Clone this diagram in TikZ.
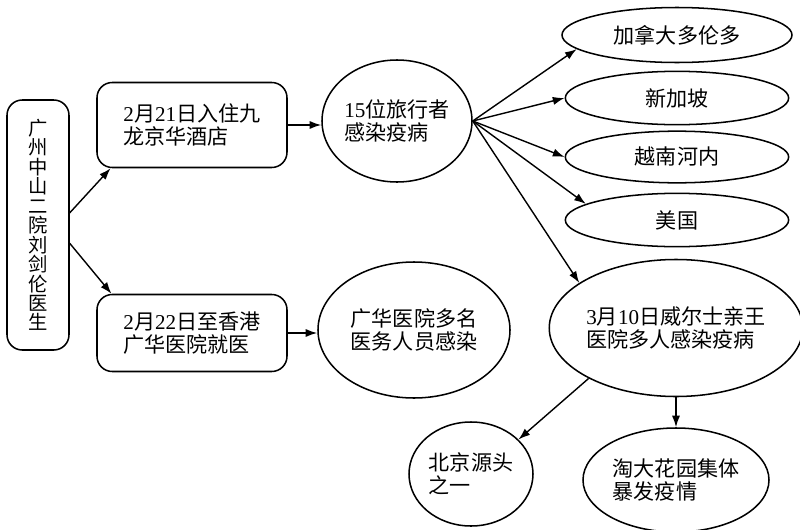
\documentclass[tikz,border=0pt]{standalone}
\usepackage{fontspec}
\setmainfont{Noto Sans CJK SC}
\newfontfamily\latinfont{Liberation Serif}
\newcommand\dg[1]{{\latinfont #1}}
\usetikzlibrary{shapes.geometric,arrows.meta}
\begin{document}
\begin{tikzpicture}[x=0.03cm,y=-0.03cm,
		every node/.style={font=\fontsize{18}{20}\selectfont, align=left, line width=1.3pt, inner sep=0pt},
		box/.style={draw, rounded corners=13pt, minimum width=5.7cm},
		oval/.style={draw, ellipse},
		arr/.style={-{Latex[length=10pt,width=7pt]}, line width=1.2pt}]
		\useasboundingbox (0,0) rectangle (800,530);
		\node[box, minimum width=1.86cm, minimum height=7.5cm, align=center, font=\fontsize{16.5}{16.6}\selectfont] (doc) at (38,225)
			{广\\州\\中\\山\\二\\院\\刘\\剑\\伦\\医\\生};
		\node[box, minimum height=2.55cm] (hotel) at (192,125) {\dg{2}月\dg{21}日入住九\\龙京华酒店};
		\node[box, minimum height=2.31cm] (hk) at (192,333) {\dg{2}月\dg{22}日至香港\\广华医院就医};
		\node[oval, minimum width=4.5cm, minimum height=3.66cm] (trav) at (397,121) {\dg{15}位旅行者\\感染疫病};
		\node[oval, minimum width=5.76cm, minimum height=4.08cm] (staff) at (414,330) {广华医院多名\\医务人员感染};
		\node[oval, minimum width=6.9cm, minimum height=1.65cm] (can) at (677,35) {加拿大多伦多};
		\node[oval, minimum width=6.7cm, minimum height=1.6cm] (sing) at (677,98) {新加坡};
		\node[oval, minimum width=6.7cm, minimum height=1.55cm] (viet) at (677,157) {越南河内};
		\node[oval, minimum width=6.7cm, minimum height=1.6cm] (usa) at (677,220) {美国};
		\node[oval, minimum width=7.14cm, minimum height=4.11cm] (wales) at (676,328) {\dg{3}月\dg{10}日威尔士亲王\\医院多人感染疫病};
		\node[oval, minimum width=3.72cm, minimum height=3.12cm] (bj) at (471,474) {北京源头\\之一};
		\node[oval, minimum width=5.58cm, minimum height=3.12cm] (amoy) at (676,480) {淘大花园集体\\暴发疫情};
		% connectors
		\draw[arr] (doc.21) -- (hotel.208);
		\draw[arr] (doc.-30) -- (hk.154);
		\draw[arr] (hotel.east) -- (hotel.east -| trav.west);
		\draw[arr] (hk.east) -- (hk.east -| staff.west);
		\draw[arr] (trav.east) -- (can.188);
		\draw[arr] (trav.east) -- (sing.west);
		\draw[arr] (trav.east) -- (viet.west);
		\draw[arr] (trav.east) -- (usa.170);
		\draw[arr] (trav.east) -- (wales.155);
		\draw[arr] (wales.210) -- (bj.36);
		\draw[arr] (wales.south) -- (amoy.north);
	\end{tikzpicture}
\end{document}
